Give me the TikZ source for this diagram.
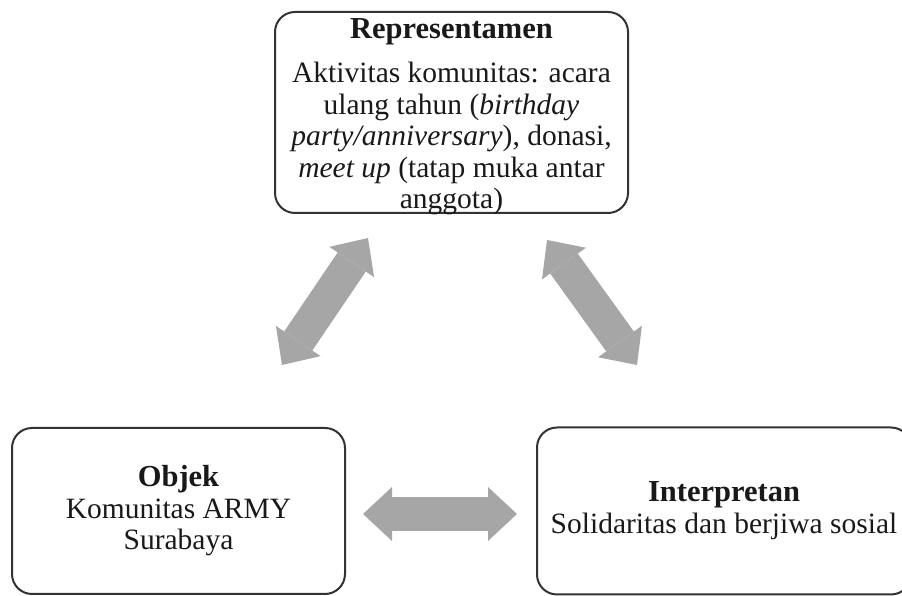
\documentclass[tikz,border=0pt]{standalone}
\usepackage{fontspec}
\setmainfont{Liberation Serif}
\usetikzlibrary{arrows.meta}
\definecolor{SignEdge}{gray}{0.20}
\definecolor{SignArrow}{gray}{0.65}
\definecolor{SignInk}{gray}{0.10}
\newcommand{\signhead}[1]{{\fontsize{30.5}{31.5}\selectfont\bfseries #1}}

\begin{document}
\begin{tikzpicture}[x=1pt,y=1pt,font=\fontsize{29.5}{31.5}\selectfont,
  signbox/.style={draw=SignEdge,line width=2pt,rounded corners=20pt,
    align=center,text=SignInk,inner sep=0pt},
  blockarrow/.style={draw=SignArrow,line width=34pt,
    {Triangle[length=29pt,width=54pt,line width=0pt]}-{Triangle[length=29pt,width=54pt,line width=0pt]}}]
  \useasboundingbox (0,0) rectangle (902,596);
  % the three corners of the sign
  \node[signbox,minimum width=353pt,text height=197pt,text depth=4pt] (rep) at (451.5,483.5)
    {\signhead{Representamen}\\[12.5pt]
     Aktivitas komunitas: acara\\
     ulang tahun (\textit{birthday}\\
     \textit{party/anniversary}), donasi,\\
     \textit{meet up} (tatap muka antar\\
     anggota)};
  \node[signbox,minimum width=333pt,text height=122pt,text depth=44pt] (obj) at (178.5,85)
    {\signhead{Objek}\\ Komunitas ARMY\\ Surabaya};
  \node[signbox,minimum width=374pt,text height=106pt,text depth=61pt] (intp) at (724,85)
    {\signhead{Interpretan}\\ Solidaritas dan berjiwa sosial};
  % arrow ends, in the gaps between the boxes
  \coordinate (objup) at (282,231);
  \coordinate (repleft) at (368,358);
  \coordinate (repright) at (547,356);
  \coordinate (intpup) at (637,231);
  \coordinate (objright) at (363,82);
  \coordinate (intpleft) at (517,82);
  \draw[blockarrow] (objup) -- (repleft);
  \draw[blockarrow] (repright) -- (intpup);
  \draw[blockarrow] (objright) -- (intpleft);
\end{tikzpicture}
\end{document}
